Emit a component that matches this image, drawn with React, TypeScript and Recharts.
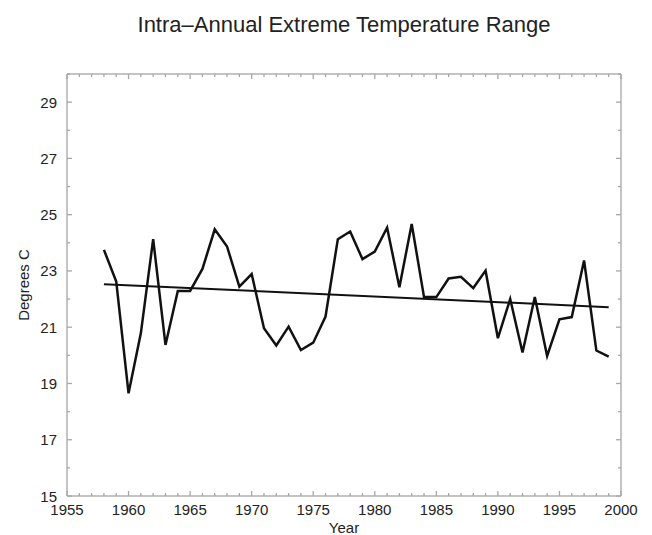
import React from 'react';
import { LineChart, Line, XAxis, YAxis, Label } from 'recharts';

// Annual series (Degrees C)
const years = [
  1958, 1959, 1960, 1961, 1962, 1963, 1964, 1965, 1966, 1967,
  1968, 1969, 1970, 1971, 1972, 1973, 1974, 1975, 1976, 1977,
  1978, 1979, 1980, 1981, 1982, 1983, 1984, 1985, 1986, 1987,
  1988, 1989, 1990, 1991, 1992, 1993, 1994, 1995, 1996, 1997,
  1998, 1999,
];
const ranges = [
  23.75, 22.62, 18.65, 20.79, 24.13, 20.37, 22.29, 22.29, 23.07, 24.48,
  23.87, 22.44, 22.89, 20.96, 20.35, 21.02, 20.19, 20.45, 21.38, 24.13,
  24.40, 23.42, 23.69, 24.54, 22.42, 24.67, 22.07, 22.07, 22.73, 22.79,
  22.39, 23.01, 20.61, 22.00, 20.10, 22.07, 19.98, 21.28, 21.36, 23.37,
  20.17, 19.95,
];

// Linear trend, end points
const trendYears = [1958, 1999];
const trendValues = [22.53, 21.71];

// Axis ticks (major ones carry labels)
const xTicks = [
  1955, 1956, 1957, 1958, 1959, 1960, 1961, 1962, 1963, 1964,
  1965, 1966, 1967, 1968, 1969, 1970, 1971, 1972, 1973, 1974,
  1975, 1976, 1977, 1978, 1979, 1980, 1981, 1982, 1983, 1984,
  1985, 1986, 1987, 1988, 1989, 1990, 1991, 1992, 1993, 1994,
  1995, 1996, 1997, 1998, 1999, 2000,
];
const xLabels = [1955, 1960, 1965, 1970, 1975, 1980, 1985, 1990, 1995, 2000];
const yTicks = [15, 16, 17, 18, 19, 20, 21, 22, 23, 24, 25, 26, 27, 28, 29, 30];
const yLabels = [15, 17, 19, 21, 23, 25, 27, 29];

const title = 'Intra–Annual Extreme Temperature Range';

const series = years.map((year, i) => ({ year, value: ranges[i] }));
const trend = trendYears.map((year, i) => ({ year, value: trendValues[i] }));

const FONT = '"Liberation Sans", Arial, Helvetica, sans-serif';
const FRAME = '#b0b0b0';
const TICK = '#a8a8a8';
const TEXT = '#222';

// inward tick marks; labels only on the bottom axis
const xTick = (side: 'bottom' | 'top') => (props: any) => {
  const { x, y, payload } = props;
  const v = payload.value;
  const major = xLabels.includes(v);
  const len = major ? 5 : 3;
  const dir = side === 'bottom' ? -1 : 1;
  return (
    <g>
      <line x1={x} x2={x} y1={y} y2={y + dir * len} stroke={TICK} strokeWidth={1.3} />
      {side === 'bottom' && major && (
        <text x={x} y={y + 19} textAnchor="middle" fill={TEXT} fontSize={15} fontFamily={FONT}>
          {v}
        </text>
      )}
    </g>
  );
};

const yTick = (side: 'left' | 'right') => (props: any) => {
  const { x, y, payload } = props;
  const v = payload.value;
  const major = yLabels.includes(v);
  const len = major ? 5 : 3;
  const dir = side === 'left' ? 1 : -1;
  return (
    <g>
      <line x1={x} x2={x + dir * len} y1={y} y2={y} stroke={TICK} strokeWidth={1.3} />
      {side === 'left' && major && (
        <text x={x - 10} y={y + 5.5} textAnchor="end" fill={TEXT} fontSize={15} fontFamily={FONT}>
          {v}
        </text>
      )}
    </g>
  );
};

const App: React.FC = () => {
  return (
    <div style={{ position: 'absolute', left: 0, top: 0, width: 652, height: 535, background: '#fff' }}>
      <div
        style={{
          position: 'absolute',
          left: 0,
          top: 12,
          width: 688,
          textAlign: 'center',
          fontFamily: FONT,
          fontSize: 22,
          lineHeight: '26px',
          color: TEXT,
        }}
      >
        {title}
      </div>
      <LineChart width={652} height={535} margin={{ top: 44, right: 0, bottom: 0, left: 7 }}>
        <XAxis
          xAxisId="top"
          orientation="top"
          type="number"
          dataKey="year"
          domain={[1955, 2000]}
          ticks={xTicks}
          interval={0}
          height={30}
          tickSize={0}
          tickMargin={0}
          tickLine={false}
          axisLine={{ stroke: FRAME, strokeWidth: 1.5 }}
          tick={xTick('top')}
        />
        <XAxis
          xAxisId="bottom"
          orientation="bottom"
          type="number"
          dataKey="year"
          domain={[1955, 2000]}
          ticks={xTicks}
          interval={0}
          height={39}
          tickSize={0}
          tickMargin={0}
          tickLine={false}
          axisLine={{ stroke: FRAME, strokeWidth: 1.5 }}
          tick={xTick('bottom')}
        >
          <Label
            content={(p: any) => {
              const vb = p.viewBox;
              return (
                <text x={vb.x + vb.width / 2} y={vb.y + 37} textAnchor="middle" fill={TEXT} fontSize={15} fontFamily={FONT}>
                  Year
                </text>
              );
            }}
          />
        </XAxis>
        <YAxis
          yAxisId="left"
          orientation="left"
          type="number"
          domain={[15, 30]}
          ticks={yTicks}
          interval={0}
          width={60}
          tickSize={0}
          tickMargin={0}
          tickLine={false}
          axisLine={{ stroke: FRAME, strokeWidth: 1.5 }}
          tick={yTick('left')}
        >
          <Label
            content={(p: any) => {
              const vb = p.viewBox;
              const cy = vb.y + vb.height / 2;
              return (
                <text
                  x={29}
                  y={cy}
                  transform={`rotate(-90, 29, ${cy})`}
                  textAnchor="middle"
                  fill={TEXT}
                  fontSize={15}
                  fontFamily={FONT}
                >
                  Degrees C
                </text>
              );
            }}
          />
        </YAxis>
        <YAxis
          yAxisId="right"
          orientation="right"
          type="number"
          domain={[15, 30]}
          ticks={yTicks}
          interval={0}
          width={31}
          tickSize={0}
          tickMargin={0}
          tickLine={false}
          axisLine={{ stroke: FRAME, strokeWidth: 1.5 }}
          tick={yTick('right')}
        />
        <Line
          data={series}
          xAxisId="bottom"
          yAxisId="left"
          dataKey="value"
          type="linear"
          stroke="#111"
          strokeWidth={2.5}
          dot={false}
          activeDot={false}
          isAnimationActive={false}
        />
        {/* trend uses the top/right axes (same scales) so those axes get their ticks */}
        <Line
          data={trend}
          xAxisId="top"
          yAxisId="right"
          dataKey="value"
          type="linear"
          stroke="#111"
          strokeWidth={2}
          dot={false}
          activeDot={false}
          isAnimationActive={false}
        />
      </LineChart>
    </div>
  );
};

export default App;
